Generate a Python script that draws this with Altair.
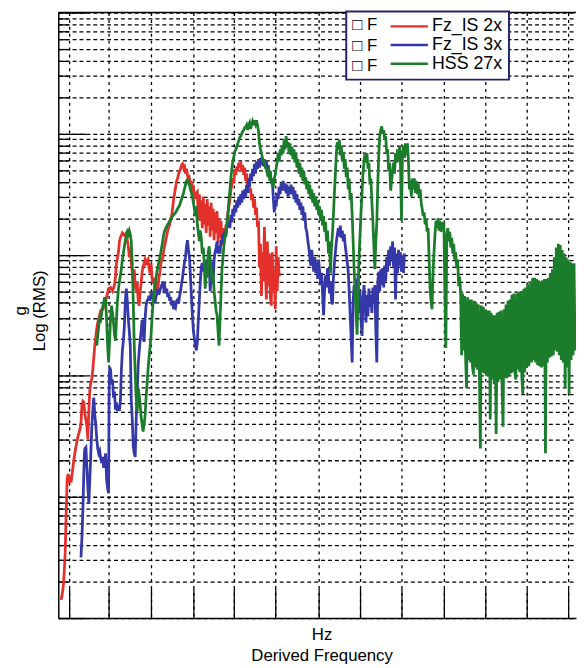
import math
import altair as alt
import pandas as pd

# ---------------- data (frequency in Hz, value = log10 of RMS g) ----------------
series_names = ["Fz_IS 2x", "Fz_IS 3x", "HSS 27x"]
series_colors = ["#e3302a", "#3438a8", "#1b7d2c"]

red_pts = [
    [6, -2.85], [8, -2.80], [10, -2.74], [12, -2.62], [14, -2.46], [16, -2.13], [18, -1.85], [20, -1.81], [22, -1.89], [24, -1.83],
    [26, -1.88], [28, -1.81], [32, -1.68], [36, -1.58], [40, -1.50], [44, -1.44], [46, -1.39], [48, -1.24], [50, -1.21], [52, -1.22],
    [54, -1.32], [56, -1.36], [58, -1.42], [60, -1.52], [62, -1.28], [64, -1.11], [66, -1.06], [68, -1.02], [70, -0.95], [72, -0.85],
    [74, -0.75], [76, -0.68], [78, -0.61], [80, -0.56], [82, -0.53], [86, -0.46], [90, -0.45], [94, -0.42], [98, -0.35], [102, -0.28],
    [106, -0.27], [110, -0.30], [114, -0.25], [116, -0.18], [118, -0.07], [122, 0.02], [124, 0.11], [126, 0.14], [130, 0.18], [134, 0.16],
    [138, 0.18], [140, 0.12], [142, 0.07], [144, -0.02], [146, 0.06], [148, -0.07], [150, -0.14], [152, -0.19], [154, -0.12], [156, -0.26],
    [158, -0.30], [160, -0.22], [162, -0.38], [164, -0.42], [166, -0.30], [168, -0.24], [170, -0.14], [172, -0.10], [176, -0.04], [178, -0.07],
    [182, -0.04], [184, -0.11], [186, -0.15], [188, -0.07], [190, -0.18], [192, -0.24], [194, -0.19], [196, -0.28], [198, -0.32], [200, -0.22],
    [202, -0.28], [204, -0.19], [206, -0.15], [208, -0.07], [212, -0.02], [214, 0.04], [216, 0.08], [218, 0.12], [222, 0.20], [226, 0.25],
    [230, 0.33], [232, 0.39], [234, 0.46], [236, 0.51], [238, 0.56], [240, 0.61], [242, 0.63], [244, 0.67], [246, 0.69], [248, 0.71],
    [250, 0.74], [252, 0.75], [254, 0.72], [256, 0.73], [258, 0.67], [260, 0.71], [262, 0.66], [264, 0.61], [266, 0.63], [268, 0.58],
    [270, 0.59], [272, 0.53], [274, 0.55], [276, 0.50], [278, 0.46], [280, 0.51], [282, 0.52], [284, 0.30], [286, 0.50], [288, 0.28],
    [290, 0.45], [292, 0.22], [294, 0.48], [296, 0.25], [298, 0.42], [300, 0.18], [302, 0.46], [304, 0.24], [306, 0.40], [308, 0.15],
    [310, 0.43], [312, 0.20], [314, 0.38], [316, 0.12], [318, 0.35], [320, 0.18], [322, 0.36], [324, 0.10], [326, 0.30], [328, 0.14],
    [330, 0.28], [332, 0.08], [334, 0.22], [336, 0.12], [338, 0.18], [340, 0.24], [342, 0.25], [344, 0.35], [346, 0.40], [348, 0.45],
    [350, 0.53], [352, 0.58], [354, 0.63], [356, 0.59], [358, 0.71], [360, 0.66], [362, 0.73], [364, 0.69], [366, 0.76], [368, 0.72],
    [370, 0.77], [372, 0.69], [374, 0.74], [376, 0.66], [378, 0.72], [380, 0.61], [382, 0.67], [384, 0.58], [386, 0.63], [388, 0.51],
    [390, 0.55], [392, 0.45], [394, 0.50], [396, 0.39], [398, 0.46], [400, 0.33], [402, 0.39], [404, 0.23], [406, 0.28], [408, -0.10],
    [410, 0.09], [412, -0.34], [414, 0.02], [416, -0.22], [418, 0.23], [420, -0.12], [422, -0.37], [424, 0.11], [426, -0.26], [428, 0.01],
    [430, -0.35], [432, -0.42], [434, 0.02], [436, -0.30], [438, -0.12], [440, -0.45], [442, 0.07], [444, -0.30], [446, -0.02], [448, -0.18],
]

blue_pts = [
    [46, -2.50], [48, -2.33], [50, -2.09], [52, -1.76], [53, -1.64], [54, -1.60], [56, -1.59], [58, -1.76], [60, -1.93], [62, -2.05],
    [64, -1.85], [66, -1.64], [68, -1.42], [70, -1.28], [72, -1.18], [74, -1.32], [76, -1.40], [78, -1.52], [80, -1.60], [82, -1.64],
    [84, -1.62], [86, -1.68], [88, -1.72], [90, -1.67], [92, -1.76], [94, -1.70], [96, -1.64], [98, -1.86], [100, -1.93], [102, -1.97],
    [103, -1.20], [104, -0.93], [106, -0.95], [108, -1.07], [110, -1.03], [112, -1.18], [114, -1.13], [116, -1.28], [118, -1.22], [120, -1.29],
    [122, -1.24], [124, -1.29], [126, -1.20], [128, -0.95], [130, -0.79], [132, -0.71], [134, -0.59], [136, -0.38], [138, -0.28], [140, -0.38],
    [142, -0.53], [144, -0.63], [146, -0.75], [148, -1.20], [150, -1.36], [152, -1.58], [154, -1.64], [156, -1.67], [158, -1.36], [160, -1.15],
    [162, -0.91], [164, -0.80], [166, -0.71], [168, -0.63], [170, -0.54], [172, -0.64], [174, -0.72], [176, -0.53], [178, -0.42], [180, -0.38],
    [182, -0.37], [184, -0.34], [186, -0.38], [188, -0.32], [190, -0.35], [192, -0.30], [194, -0.37], [196, -0.40], [198, -0.35], [200, -0.32],
    [202, -0.28], [204, -0.33], [206, -0.30], [208, -0.27], [210, -0.25], [212, -0.22], [214, -0.28], [216, -0.26], [218, -0.32], [220, -0.28],
    [222, -0.35], [224, -0.32], [226, -0.38], [228, -0.35], [230, -0.42], [232, -0.38], [234, -0.45], [236, -0.41], [238, -0.43], [240, -0.38],
    [242, -0.37], [244, -0.40], [246, -0.34], [248, -0.30], [250, -0.24], [252, -0.19], [254, -0.12], [256, -0.06], [258, -0.02], [260, 0.07],
    [262, 0.12], [264, 0.04], [266, -0.02], [268, -0.18], [270, -0.34], [272, -0.50], [274, -0.63], [276, -0.69], [278, -0.75], [280, -0.79],
    [282, -0.72], [284, -0.54], [286, -0.38], [288, -0.22], [290, -0.10], [292, -0.07], [294, -0.14], [296, -0.06], [298, -0.12], [300, -0.07],
    [302, -0.04], [304, -0.14], [306, -0.07], [308, -0.30], [310, -0.19], [312, -0.06], [314, -0.24], [316, -0.04], [318, 0.02], [320, 0.06],
    [322, 0.11], [324, 0.01], [326, 0.07], [328, 0.01], [330, 0.12], [332, 0.09], [334, 0.17], [336, 0.14], [338, 0.20], [340, 0.15],
    [342, 0.23], [346, 0.28], [348, 0.22], [350, 0.33], [352, 0.27], [354, 0.38], [356, 0.32], [358, 0.41], [360, 0.35], [362, 0.45],
    [364, 0.39], [366, 0.48], [368, 0.41], [370, 0.50], [372, 0.43], [374, 0.53], [376, 0.46], [378, 0.54], [380, 0.48], [382, 0.58],
    [384, 0.51], [386, 0.63], [388, 0.56], [390, 0.67], [392, 0.61], [394, 0.71], [396, 0.65], [398, 0.75], [400, 0.67], [402, 0.77],
    [404, 0.71], [406, 0.79], [408, 0.72], [410, 0.80], [412, 0.74], [414, 0.80], [416, 0.73], [418, 0.79], [420, 0.72], [422, 0.77],
    [424, 0.69], [426, 0.74], [428, 0.66], [430, 0.69], [432, 0.59], [434, 0.63], [436, 0.47], [438, 0.35], [440, 0.45], [442, 0.40],
    [444, 0.51], [446, 0.46], [448, 0.56], [450, 0.50], [452, 0.59], [454, 0.53], [456, 0.61], [458, 0.53], [460, 0.59], [462, 0.51],
    [464, 0.58], [466, 0.48], [468, 0.56], [470, 0.50], [472, 0.58], [474, 0.50], [476, 0.56], [478, 0.46], [480, 0.53], [482, 0.43],
    [484, 0.50], [486, 0.41], [488, 0.46], [490, 0.37], [492, 0.43], [494, 0.33], [496, 0.40], [498, 0.28], [500, 0.35], [502, 0.22],
    [504, 0.19], [506, 0.12], [508, 0.06], [510, -0.01], [512, -0.09], [514, 0.04], [516, -0.04], [518, -0.14], [520, -0.02], [522, -0.15],
    [524, -0.06], [526, -0.20], [528, -0.04], [530, -0.14], [532, -0.25], [534, -0.15], [536, -0.32], [538, -0.50], [540, -0.30], [542, -0.17],
    [544, -0.27], [546, -0.11], [548, -0.17], [550, -0.32], [552, -0.22], [554, -0.37], [556, -0.41], [558, -0.19], [560, -0.07], [562, 0.02],
    [564, 0.11], [566, 0.17], [568, 0.22], [570, 0.15], [572, 0.24], [574, 0.14], [576, 0.20], [578, 0.11], [580, 0.17], [582, 0.07],
    [584, 0.01], [586, -0.06], [588, -0.14], [590, -0.30], [592, -0.50], [594, -0.69], [596, -0.89], [598, -0.38], [600, -0.25], [602, -0.32],
    [604, -0.20], [606, -0.38], [608, -0.17], [610, -0.48], [612, -0.30], [614, -0.54], [616, -0.67], [618, -0.37], [620, -0.25], [622, -0.40],
    [624, -0.56], [626, -0.33], [628, -0.51], [630, -0.28], [632, -0.43], [634, -0.33], [636, -0.48], [638, -0.27], [640, -0.40], [642, -0.25],
    [644, -0.63], [646, -0.89], [648, -0.22], [650, -0.14], [652, -0.30], [654, -0.12], [656, -0.25], [658, -0.11], [660, -0.27], [662, -0.09],
    [664, -0.22], [666, -0.02], [668, -0.14], [670, 0.04], [672, -0.09], [674, 0.07], [676, -0.04], [678, 0.11], [680, -0.11], [682, 0.06],
    [684, -0.37], [686, 0.01], [688, -0.15], [690, 0.04], [692, -0.09], [694, 0.02], [696, -0.14], [698, -0.01], [700, -0.15], [702, 0.01],
]

green_pts = [
    [78, -0.75], [80, -0.67], [82, -0.59], [84, -0.53], [86, -0.54], [88, -0.48], [90, -0.43], [92, -0.40], [94, -0.35], [96, -0.38],
    [98, -0.54], [100, -0.75], [102, -0.89], [104, -0.71], [106, -0.53], [108, -0.42], [110, -0.48], [112, -0.56], [114, -0.66], [116, -0.71],
    [118, -0.53], [120, -0.38], [122, -0.28], [124, -0.22], [126, -0.17], [128, -0.11], [130, -0.04], [132, 0.01], [134, 0.07], [136, 0.12],
    [138, 0.16], [140, 0.19], [142, 0.17], [144, 0.20], [146, 0.17], [148, 0.11], [150, -0.07], [152, -0.38], [154, -0.75], [156, -0.97],
    [158, -1.18], [160, -1.29], [162, -1.10], [164, -1.15], [166, -1.24], [168, -1.34], [170, -1.40], [172, -1.46], [174, -1.40], [176, -1.33],
    [178, -1.18], [180, -1.07], [182, -0.95], [184, -0.85], [186, -0.77], [188, -0.67], [190, -0.53], [192, -0.40], [194, -0.32], [196, -0.25],
    [198, -0.20], [200, -0.14], [202, -0.10], [204, -0.06], [206, -0.02], [208, 0.02], [210, 0.07], [212, 0.12], [214, 0.17], [216, 0.20],
    [218, 0.22], [222, 0.25], [226, 0.28], [230, 0.31], [234, 0.33], [238, 0.35], [242, 0.38], [246, 0.41], [250, 0.46], [254, 0.51],
    [258, 0.58], [260, 0.61], [262, 0.62], [264, 0.59], [266, 0.58], [268, 0.54], [270, 0.51], [272, 0.48], [274, 0.43], [276, 0.38],
    [278, 0.32], [280, 0.40], [282, 0.25], [284, 0.19], [286, 0.11], [288, 0.20], [290, 0.14], [292, 0.01], [294, 0.06], [296, -0.07],
    [298, -0.28], [300, -0.12], [302, -0.19], [304, 0.02], [306, 0.07], [308, -0.04], [310, -0.11], [312, -0.22], [314, -0.15], [316, -0.30],
    [318, -0.38], [320, -0.46], [322, -0.50], [324, -0.63], [326, -0.75], [328, -0.54], [330, -0.32], [332, -0.12], [334, -0.02], [336, 0.08],
    [338, 0.14], [340, 0.20], [342, 0.25], [344, 0.33], [346, 0.45], [348, 0.53], [350, 0.63], [352, 0.71], [354, 0.77], [356, 0.81],
    [358, 0.85], [360, 0.87], [362, 0.89], [364, 0.92], [366, 0.94], [368, 0.97], [370, 0.98], [372, 1.00], [374, 1.02], [376, 1.03],
    [378, 1.05], [380, 1.05], [382, 1.07], [384, 1.03], [386, 1.07], [388, 1.09], [390, 1.04], [392, 1.07], [394, 1.10], [396, 1.07],
    [398, 1.11], [400, 1.08], [402, 1.11], [404, 1.07], [406, 1.02], [408, 0.92], [410, 0.87], [412, 0.84], [414, 0.80], [416, 0.77],
    [418, 0.76], [420, 0.72], [422, 0.71], [424, 0.67], [426, 0.69], [428, 0.64], [430, 0.66], [432, 0.61], [434, 0.58], [436, 0.56],
    [438, 0.63], [440, 0.66], [442, 0.72], [444, 0.77], [446, 0.84], [448, 0.77], [450, 0.87], [452, 0.82], [454, 0.90], [456, 0.84],
    [458, 0.95], [460, 0.87], [462, 0.98], [464, 0.89], [466, 0.93], [468, 0.84], [470, 0.92], [472, 0.82], [474, 0.89], [476, 0.79],
    [478, 0.87], [480, 0.76], [482, 0.84], [484, 0.72], [486, 0.79], [488, 0.67], [490, 0.76], [492, 0.64], [494, 0.72], [496, 0.61],
    [498, 0.69], [500, 0.58], [502, 0.64], [504, 0.54], [506, 0.61], [508, 0.50], [510, 0.58], [512, 0.46], [514, 0.54], [516, 0.43],
    [518, 0.51], [520, 0.40], [522, 0.48], [524, 0.37], [526, 0.45], [528, 0.33], [530, 0.40], [532, 0.28], [534, 0.37], [536, 0.24],
    [538, 0.32], [540, 0.19], [542, 0.27], [544, 0.11], [546, 0.20], [548, 0.01], [550, 0.11], [552, -0.15], [554, 0.06], [556, 0.17],
    [558, 0.33], [560, 0.51], [562, 0.67], [564, 0.84], [566, 0.93], [568, 0.87], [570, 0.95], [572, 0.82], [574, 0.90], [576, 0.77],
    [578, 0.85], [580, 0.71], [582, 0.79], [584, 0.64], [586, 0.72], [588, 0.54], [590, 0.63], [592, 0.45], [594, 0.51], [596, 0.33],
    [598, 0.11], [600, -0.12], [602, -0.30], [604, -0.48], [606, -0.66], [608, -0.30], [610, -0.02], [612, 0.17], [614, 0.35], [616, 0.51],
    [618, 0.67], [620, 0.77], [622, 0.84], [624, 0.76], [626, 0.84], [628, 0.71], [630, 0.76], [632, 0.58], [634, 0.63], [636, 0.43],
    [638, 0.28], [640, 0.07], [642, -0.12], [644, 0.11], [646, 0.27], [648, 0.59], [650, 0.84], [652, 0.98], [654, 1.03], [656, 1.06],
    [658, 1.00], [660, 1.03], [662, 0.95], [664, 0.98], [666, 0.84], [668, 0.87], [670, 0.69], [672, 0.76], [674, 0.53], [676, 0.61],
    [678, 0.69], [680, 0.76], [682, 0.67], [684, 0.84], [686, 0.76], [688, 0.87], [690, 0.77], [692, 0.89], [694, 0.74], [696, 0.28],
    [698, 0.84], [700, 0.90], [702, 0.80], [704, 0.92], [706, 0.82], [708, 0.92], [710, 0.79], [712, 0.54], [714, 0.61], [716, 0.48],
    [718, 0.63], [720, 0.54], [722, 0.63], [724, 0.51], [726, 0.61], [728, 0.50], [730, 0.59], [732, 0.48], [734, 0.54], [736, 0.43],
    [738, 0.38], [740, 0.32], [742, 0.35], [744, 0.25], [746, 0.30], [748, 0.19], [750, 0.22], [752, -0.02], [754, -0.28], [756, -0.38],
    [758, -0.45], [760, -0.14], [762, 0.02], [764, 0.17], [766, 0.28], [768, 0.22], [770, 0.30], [772, 0.20], [774, 0.28], [776, 0.19],
    [778, 0.27], [780, 0.20], [782, 0.27], [784, -0.30], [786, -0.77], [788, 0.17], [790, 0.22], [792, 0.11], [794, 0.19], [796, 0.06],
    [798, 0.14], [800, 0.01], [802, 0.09], [804, -0.04], [806, 0.02], [808, -0.11], [810, -0.04], [812, -0.26], [814, -0.18], [816, -0.32],
    [818, -0.83], [820, -0.32], [822, -0.79], [824, -0.34], [826, -0.84], [828, -1.10], [830, -0.35], [832, -0.87], [834, -0.37], [836, -0.89],
    [838, -0.37], [840, -0.92], [842, -0.99], [844, -0.38], [846, -0.93], [848, -0.40], [850, -0.95], [852, -0.41], [854, -0.97], [856, -1.60],
    [858, -0.42], [860, -0.97], [862, -0.43], [864, -0.98], [866, -0.45], [868, -1.00], [870, -0.46], [872, -1.00], [874, -0.46], [876, -1.36],
    [878, -0.48], [880, -1.03], [882, -0.50], [884, -1.07], [886, -0.50], [888, -1.48], [890, -0.48], [892, -1.05], [894, -0.47], [896, -1.03],
    [898, -0.46], [900, -1.05], [902, -1.42], [904, -0.45], [906, -1.02], [908, -0.41], [910, -1.02], [912, -0.38], [914, -1.00], [916, -0.37],
    [918, -0.98], [920, -0.33], [922, -0.97], [924, -0.32], [926, -0.97], [928, -1.03], [930, -0.32], [932, -0.95], [934, -0.31], [936, -0.97],
    [938, -0.30], [940, -1.00], [942, -1.15], [944, -0.28], [946, -0.97], [948, -0.27], [950, -0.93], [952, -0.24], [954, -0.92], [956, -0.84],
    [958, -0.22], [960, -0.89], [962, -0.19], [964, -0.87], [966, -0.19], [968, -0.89], [970, -0.20], [972, -0.91], [974, -0.21], [976, -0.92],
    [978, -0.22], [980, -0.93], [982, -0.21], [984, -0.92], [986, -0.20], [988, -1.64], [990, -0.20], [992, -0.89], [994, -0.19], [996, -0.85],
    [998, -0.15], [1000, -0.84], [1002, -0.12], [1004, -0.83], [1006, -0.02], [1008, -0.79], [1010, 0.06], [1012, -0.80], [1014, 0.09], [1016, -0.83],
    [1018, 0.08], [1020, -0.87], [1022, 0.04], [1024, -0.89], [1026, 0.01], [1028, -1.10], [1030, -0.02], [1032, -0.93], [1034, -0.04], [1036, -1.15],
    [1038, -0.06], [1040, -0.87], [1042, -0.07], [1044, -0.83], [1046, -0.07], [1048, -0.79],
]

# axis ranges / grid positions
x_domain = [0, 1050]
y_domain = [-3, 2]
x_grid = [22, 102, 188, 274, 356, 440, 528, 612, 696, 782, 866, 950, 1034]
y_grid = [n + math.log10(k) for n in range(-3, 2) for k in range(1, 10)] + [2]

# ---------------- build table ----------------
rows = []
for name, pts in zip(series_names, [red_pts, blue_pts, green_pts]):
    for i, (fx, fy) in enumerate(pts):
        rows.append({"series": name, "freq": fx, "logrms": fy, "idx": i})
df = pd.DataFrame(rows)
frame_df = pd.DataFrame({"x0": [x_domain[0]], "x1": [x_domain[1]], "ytop": [y_domain[1]]})

W, H = 525, 614
FONT = "Liberation Sans"
x_scale = alt.Scale(domain=x_domain, nice=False, zero=False)
y_scale = alt.Scale(domain=y_domain, nice=False, zero=False)

lines = alt.Chart(df).mark_line(strokeWidth=2.8, clip=True).encode(
    x=alt.X("freq:Q", scale=x_scale,
            axis=alt.Axis(values=x_grid, labels=False, ticks=False, domain=True,
                          domainColor="black", domainWidth=1.5,
                          grid=True, gridColor="black", gridDash=[3, 4], gridWidth=1.3,
                          title=["Hz", "Derived Frequency"], titleFont=FONT, titleFontSize=17,
                          titleFontWeight="normal", titleColor="black", titlePadding=9,
                          titleLineHeight=21, titleX=267)),
    y=alt.Y("logrms:Q", scale=y_scale,
            axis=alt.Axis(values=y_grid, labels=False, ticks=False, domain=True,
                          domainColor="black", domainWidth=1.5,
                          grid=True, gridColor="black", gridDash=[4, 3], gridWidth=1.3,
                          title=["g", "Log (RMS)"], titleFont=FONT, titleFontSize=17,
                          titleFontWeight="normal", titleColor="black", titlePadding=10,
                          titleLineHeight=19, titleY=302)),
    color=alt.Color("series:N",
                    scale=alt.Scale(domain=series_names, range=series_colors),
                    legend=alt.Legend(orient="none", legendX=292, legendY=-1,
                                      title=["\u25a1 F", "\u25a1 F", "\u25a1 F"],
                                      titleOrient="left", titleFont=FONT, titleFontSize=17,
                                      titleFontWeight="normal", titleColor="black",
                                      titleLineHeight=20.5, titleBaseline="top", titleAnchor="start",
                                      titlePadding=11,
                                      symbolType="M-1,0L4.4,0", symbolSize=196, symbolStrokeWidth=2.5,
                                      labelFont=FONT, labelFontSize=18, labelColor="black",
                                      labelOffset=26, rowPadding=1, padding=6,
                                      strokeColor="#24246c", fillColor="white")),
    order=alt.Order("idx:Q"),
)

frame = alt.Chart(frame_df).mark_rule(color="black", strokeWidth=1.5).encode(
    x=alt.X("x0:Q", scale=x_scale,
            axis=alt.Axis(orient="top", offset=-H, values=x_grid, labels=False, ticks=True,
                          tickSize=30, tickColor="black", tickWidth=1.3, domain=False, grid=False,
                          title="")),
    x2="x1:Q",
    y=alt.Y("ytop:Q", scale=y_scale,
            axis=alt.Axis(orient="right", offset=-W, values=y_grid, labels=False, ticks=True,
                          tickSize={"condition": {"test": "abs(datum.value - round(datum.value)) < 0.001",
                                                  "value": 28}, "value": 10},
                          tickColor="black", tickWidth=1.3, domain=False, grid=False, title="")),
)

chart = alt.layer(lines, frame).resolve_axis(x="independent", y="independent").properties(
    width=W, height=H,
    autosize=alt.AutoSizeParams(type="none"),
    padding={"left": 51, "top": 0, "right": 1, "bottom": 44},
    background="white",
).configure(font=FONT).configure_view(strokeWidth=0).configure_legend(strokeWidth=2)

chart.save("out.html", embed_options={"renderer": "svg", "actions": False})
